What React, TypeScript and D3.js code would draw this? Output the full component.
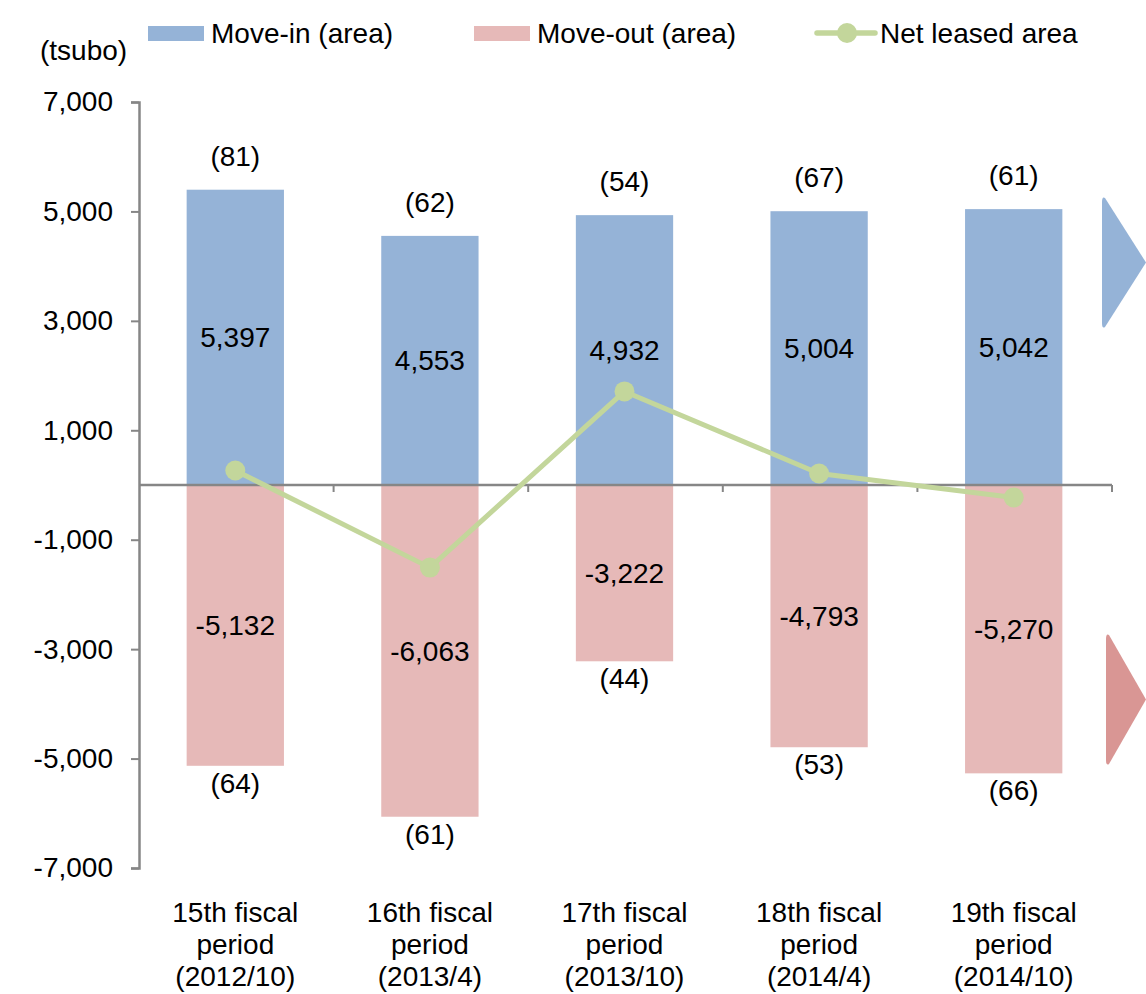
import React, { useEffect, useRef } from 'react';
import * as d3 from 'd3';

const periods: string[][] = [
  ['15th fiscal', 'period', '(2012/10)'],
  ['16th fiscal', 'period', '(2013/4)'],
  ['17th fiscal', 'period', '(2013/10)'],
  ['18th fiscal', 'period', '(2014/4)'],
  ['19th fiscal', 'period', '(2014/10)'],
];
const moveIn = [5397, 4553, 4932, 5004, 5042];
const moveOut = [-5132, -6063, -3222, -4793, -5270];
const moveInCount = [81, 62, 54, 67, 61];
const moveOutCount = [64, 61, 44, 53, 66];
const netLeased = [265, -1510, 1710, 211, -228];
const yTicks = [7000, 5000, 3000, 1000, -1000, -3000, -5000, -7000];

const BLUE = '#95b3d7';
const PINK = '#e6b9b8';
const GREEN = '#c3d69b';
const AXIS = '#868686';
const FONT = '"Liberation Sans", Arial, sans-serif';
const FS = 28;

// Excel-style number: plain hyphen for negatives
const fmt = (v: number) => (v < 0 ? '-' : '') + d3.format(',')(Math.abs(v));

const Chart: React.FC = () => {
  const svgRef = useRef<SVGSVGElement | null>(null);

  useEffect(() => {
    const svg = d3.select(svgRef.current);
    svg.selectAll('*').remove();

    const width = 1146;
    const height = 994;
    const left = 139;
    const right = 1112;

    const idx = periods.map((_, i) => String(i));
    const x = d3.scaleBand<string>().domain(idx).range([left, right]).padding(0);
    const y = d3.scaleLinear().domain([-7000, 7000]).range([868, 102]);
    const barW = x.bandwidth() * 0.5;
    const cx = (i: number) => (x(String(i)) as number) + x.bandwidth() / 2 - 1;

    svg.attr('width', width).attr('height', height).style('font-family', FONT);

    // Bars
    svg
      .append('g')
      .selectAll('rect')
      .data(moveIn)
      .join('rect')
      .attr('x', (_, i) => cx(i) - barW / 2)
      .attr('y', d => y(d))
      .attr('width', barW)
      .attr('height', d => y(0) - y(d))
      .attr('fill', BLUE);

    svg
      .append('g')
      .selectAll('rect')
      .data(moveOut)
      .join('rect')
      .attr('x', (_, i) => cx(i) - barW / 2)
      .attr('y', y(0))
      .attr('width', barW)
      .attr('height', d => y(d) - y(0))
      .attr('fill', PINK);

    // Y axis
    const yAxis = svg
      .append('g')
      .attr('transform', `translate(${left},0)`)
      .call(
        d3
          .axisLeft(y)
          .tickValues(yTicks)
          .tickSize(8)
          .tickPadding(18)
          .tickFormat(d => fmt(d as number))
      );
    yAxis.select('.domain').attr('stroke', AXIS).attr('stroke-width', 2.5);
    yAxis.selectAll('.tick line').attr('stroke', AXIS).attr('stroke-width', 2);
    yAxis
      .selectAll('.tick text')
      .attr('font-size', FS)
      .attr('font-family', FONT)
      .attr('fill', '#000');

    // X axis at zero
    const bounds = [...idx.map(k => x(k) as number), right];
    svg
      .append('line')
      .attr('x1', left)
      .attr('x2', right)
      .attr('y1', y(0))
      .attr('y2', y(0))
      .attr('stroke', AXIS)
      .attr('stroke-width', 2.5);
    svg
      .append('g')
      .selectAll('line')
      .data(bounds.slice(1))
      .join('line')
      .attr('x1', d => d)
      .attr('x2', d => d)
      .attr('y1', y(0))
      .attr('y2', y(0) + 7)
      .attr('stroke', AXIS)
      .attr('stroke-width', 2);

    // Category labels
    const cat = svg
      .append('g')
      .selectAll('text')
      .data(periods)
      .join('text')
      .attr('text-anchor', 'middle')
      .attr('font-size', FS)
      .attr('fill', '#000');
    cat
      .selectAll('tspan')
      .data((d, i) => d.map(t => ({ t, i })))
      .join('tspan')
      .attr('x', d => cx(d.i))
      .attr('y', (_, j) => 922 + j * 32)
      .text(d => d.t);

    // Value labels
    const lbl = svg.append('g').attr('font-size', FS).attr('text-anchor', 'middle').attr('fill', '#000');
    moveIn.forEach((v, i) => {
      lbl.append('text').attr('x', cx(i)).attr('y', (y(v) + y(0)) / 2 + 10).text(fmt(v));
      lbl.append('text').attr('x', cx(i)).attr('y', y(v) - 24).text(`(${moveInCount[i]})`);
    });
    moveOut.forEach((v, i) => {
      lbl.append('text').attr('x', cx(i)).attr('y', (y(v) + y(0)) / 2 + 10).text(fmt(v));
      lbl.append('text').attr('x', cx(i)).attr('y', y(v) + 27).text(`(${moveOutCount[i]})`);
    });

    // Net line
    const line = d3
      .line<number>()
      .x((_, i) => cx(i))
      .y(d => y(d));
    svg
      .append('path')
      .datum(netLeased)
      .attr('fill', 'none')
      .attr('stroke', GREEN)
      .attr('stroke-width', 5)
      .attr('stroke-linejoin', 'round')
      .attr('d', line);
    svg
      .append('g')
      .selectAll('circle')
      .data(netLeased)
      .join('circle')
      .attr('cx', (_, i) => cx(i))
      .attr('cy', d => y(d))
      .attr('r', 10)
      .attr('fill', GREEN);

    // Unit label
    svg.append('text').attr('x', 40).attr('y', 60).attr('font-size', FS).text('(tsubo)');

    // Legend
    const lg = svg.append('g').attr('font-size', FS).attr('fill', '#000');
    lg.append('rect').attr('x', 148).attr('y', 26).attr('width', 56).attr('height', 15).attr('fill', BLUE);
    lg.append('text').attr('x', 211).attr('y', 43).text('Move-in (area)');
    lg.append('rect').attr('x', 474).attr('y', 26).attr('width', 56).attr('height', 15).attr('fill', PINK);
    lg.append('text').attr('x', 537).attr('y', 43).text('Move-out (area)');
    lg.append('line')
      .attr('x1', 817).attr('x2', 875).attr('y1', 33).attr('y2', 33)
      .attr('stroke', GREEN).attr('stroke-width', 5.5).attr('stroke-linecap', 'round');
    lg.append('circle').attr('cx', 847).attr('cy', 33).attr('r', 10).attr('fill', GREEN);
    lg.append('text').attr('x', 880).attr('y', 43).text('Net leased area');

    // Right-side arrows
    const arrow = (top: number, bottom: number, x0: number, color: string) => {
      const mid = (top + bottom) / 2;
      const p = d3.path();
      p.moveTo(x0 + 3, top + 2);
      p.lineTo(1146, mid);
      p.lineTo(x0 + 3, bottom - 2);
      p.quadraticCurveTo(x0, bottom, x0, bottom - 6);
      p.lineTo(x0, top + 6);
      p.quadraticCurveTo(x0, top, x0 + 3, top + 2);
      p.closePath();
      svg.append('path').attr('d', p.toString()).attr('fill', color);
    };
    arrow(196, 329, 1102, BLUE);
    arrow(633, 766, 1106, '#d99694');
  }, []);

  return <svg ref={svgRef} style={{ position: 'absolute', left: 0, top: 0 }} />;
};

export default function App() {
  return <Chart />;
}
